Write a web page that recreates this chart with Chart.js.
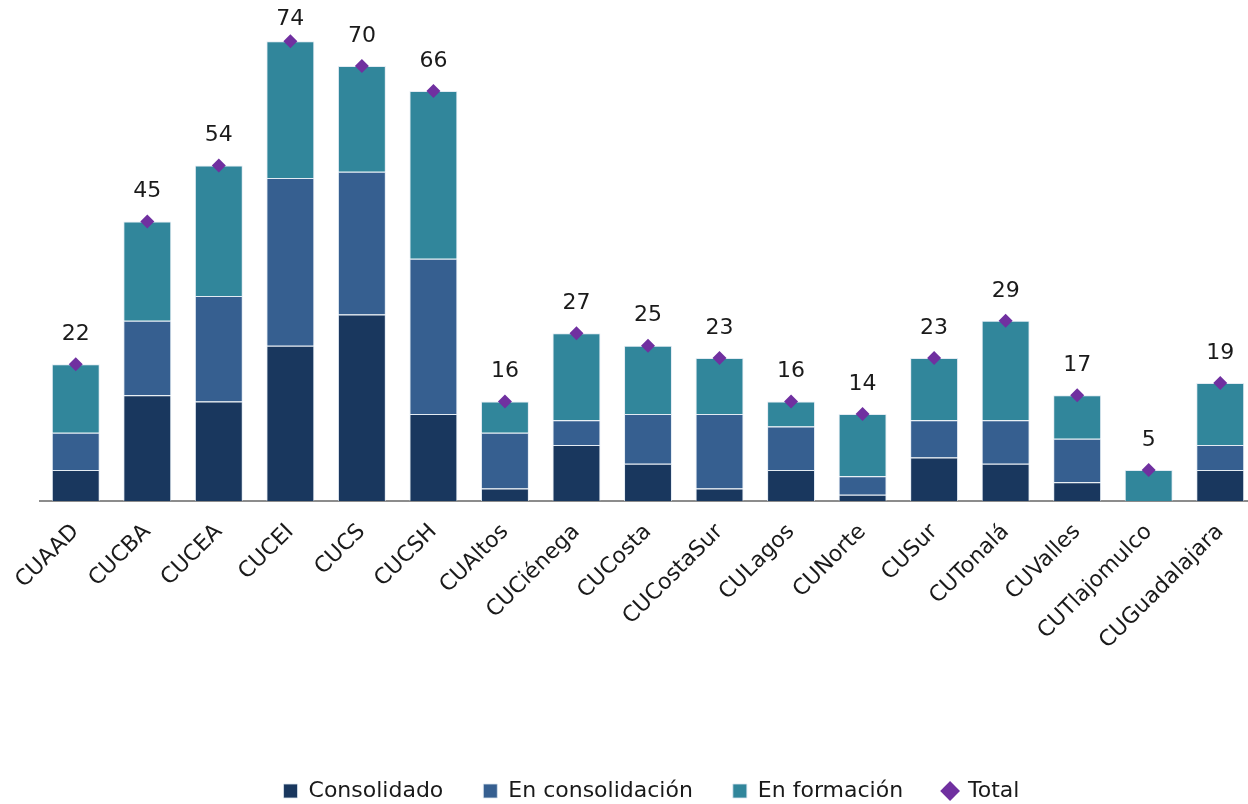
<!DOCTYPE html>
<html>
<head>
  <meta charset="utf-8">
  <title>Cuerpos académicos por centro</title>
  <script src="https://cdn.jsdelivr.net/npm/chart.js"></script>
  <style>
    html, body { margin: 0; padding: 0; overflow: hidden; background: #fff; }
    #wrap { width: 1263px; height: 812px; }
  </style>
</head>
<body>
  <div id="wrap"><canvas id="grafica" width="1263" height="812"></canvas></div>

  <script>
    // datos
    const centros = ["CUAAD", "CUCBA", "CUCEA", "CUCEI", "CUCS", "CUCSH", "CUAltos", "CUCiénega", "CUCosta",
      "CUCostaSur", "CULagos", "CUNorte", "CUSur", "CUTonalá", "CUValles", "CUTlajomulco", "CUGuadalajara"];
    const consolidado     = [5, 17, 16, 25, 30, 14, 2, 9, 6, 2, 5, 1, 7, 6, 3, 0, 5];
    const enConsolidacion = [6, 12, 17, 27, 23, 25, 9, 4, 8, 12, 7, 3, 6, 7, 7, 0, 4];
    const enFormacion     = [11, 16, 21, 22, 17, 27, 5, 14, 11, 9, 4, 10, 10, 16, 7, 5, 10];
    const total           = [22, 45, 54, 74, 70, 66, 16, 27, 25, 23, 16, 14, 23, 29, 17, 5, 19];

    const fuente = "'DejaVu Sans', sans-serif";

    // etiquetas encima de los rombos del total (sin salirse por arriba)
    const etiquetasTotal = {
      id: "etiquetasTotal",
      afterDatasetsDraw(chart) {
        const meta = chart.getDatasetMeta(3);
        const ctx = chart.ctx;
        ctx.save();
        ctx.font = "22px " + fuente;
        ctx.fillStyle = "#1a1a1a";
        ctx.textAlign = "center";
        ctx.textBaseline = "middle";
        meta.data.forEach((pt, i) => {
          ctx.fillText(total[i], pt.x, Math.max(pt.y - 30, 19));
        });
        ctx.restore();
      }
    };

    const borde = "rgba(220, 230, 240, 0.8)";

    new Chart(document.getElementById("grafica"), {
      type: "bar",
      data: {
        labels: centros,
        datasets: [
          { label: "Consolidado", data: consolidado, backgroundColor: "#19375E", borderColor: borde, borderWidth: 1, pointStyle: "rect", order: 1 },
          { label: "En consolidación", data: enConsolidacion, backgroundColor: "#365F90", borderColor: borde, borderWidth: 1, pointStyle: "rect", order: 1 },
          { label: "En formación", data: enFormacion, backgroundColor: "#31869B", borderColor: borde, borderWidth: 1, pointStyle: "rect", order: 1 },
          {
            type: "line", label: "Total", data: total, stack: "total", showLine: false,
            pointStyle: "rectRot", pointRadius: 7, pointHoverRadius: 7,
            backgroundColor: "#7030A0", borderColor: "#7030A0", borderWidth: 0, order: 0
          }
        ]
      },
      options: {
        responsive: false,
        animation: false,
        devicePixelRatio: 1,
        datasets: { bar: { barPercentage: 0.67, categoryPercentage: 1 } },
        layout: { padding: { top: 4, left: 40, right: 0, bottom: 0 } },
        plugins: {
          tooltip: { enabled: false },
          legend: {
            position: "bottom",
            labels: {
              usePointStyle: true,
              boxWidth: 14,
              boxHeight: 14,
              padding: 40,
              color: "#1a1a1a",
              font: { family: fuente, size: 22 },
              sort: (a, b) => a.datasetIndex - b.datasetIndex
            }
          }
        },
        scales: {
          x: {
            stacked: true,
            grid: { display: false, drawTicks: false },
            border: { display: true, color: "#8c8c8c", width: 2 },
            ticks: {
              minRotation: 45, maxRotation: 45, padding: 18,
              color: "#1a1a1a", font: { family: fuente, size: 22 }
            },
            afterFit(scale) { scale.height = 239; }
          },
          y: {
            stacked: true,
            display: false,
            min: 0,
            max: 79.5
          }
        }
      },
      plugins: [etiquetasTotal]
    });
  </script>
</body>
</html>
